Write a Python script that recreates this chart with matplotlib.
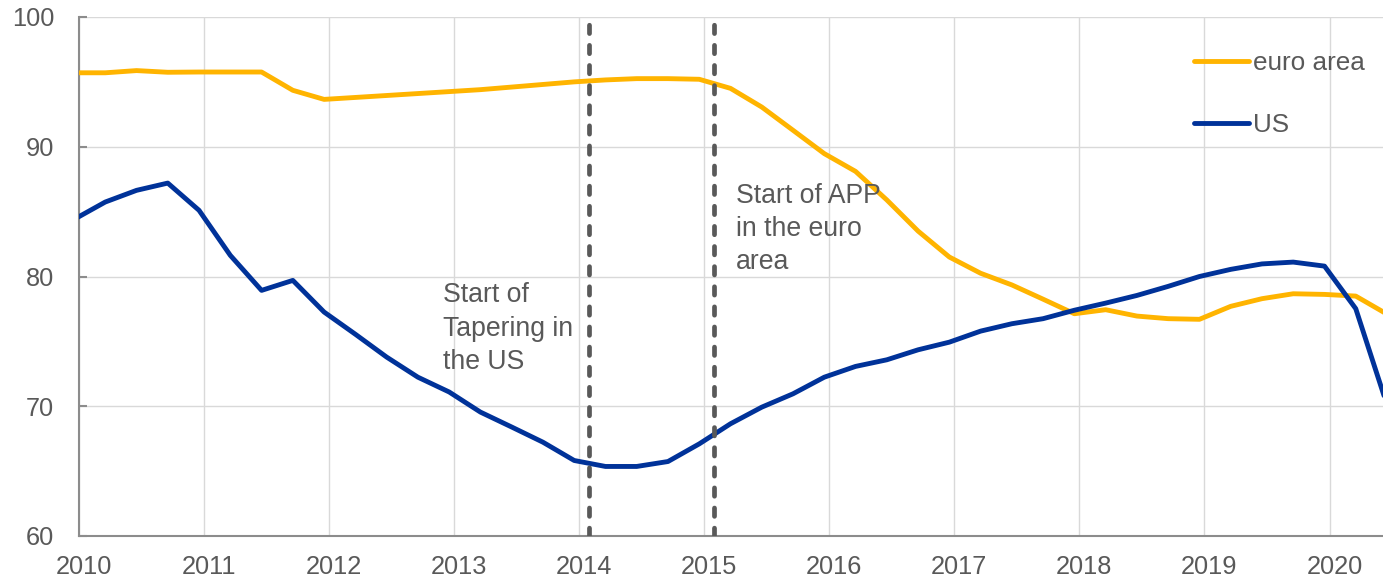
import matplotlib
matplotlib.use("Agg")
import matplotlib.pyplot as plt
from matplotlib.transforms import ScaledTranslation
import numpy as np

# Quarterly observations, 2010Q1 .. 2020Q3
start_year = 2010
quarters = list(range(43))

euro_area = [95.70, 95.70, 95.87, 95.74, 95.76, 95.76, 95.76, 94.35, 93.65,
             93.80, 93.95, 94.10, 94.25, 94.40, 94.60, 94.80, 95.00, 95.15,
             95.25, 95.25, 95.20, 94.50, 93.06, 91.27, 89.47, 88.10, 85.90,
             83.50, 81.50, 80.25, 79.35, 78.25, 77.13, 77.44, 76.95, 76.75,
             76.70, 77.70, 78.29, 78.67, 78.62, 78.49, 77.10]

us = [84.40, 85.74, 86.64, 87.20, 85.10, 81.63, 78.93, 79.70, 77.26,
      75.55, 73.79, 72.24, 71.10, 69.55, 68.40, 67.23, 65.82, 65.36,
      65.36, 65.74, 67.10, 68.65, 69.93, 70.96, 72.24, 73.07, 73.58,
      74.35, 74.94, 75.79, 76.36, 76.75, 77.40, 77.95, 78.54, 79.24,
      80.00, 80.55, 80.97, 81.11, 80.80, 77.52, 70.10]

dates = [start_year - 0.04 + 0.25 * q for q in quarters]

event_dates = [2014.08, 2015.08]
event_labels = ["Start of\nTapering in\nthe US", "Start of APP\nin the euro\narea"]
event_label_pos = [(2012.91, 79.55), (2015.254, 87.2)]

x_ticks = list(range(2010, 2021))
y_ticks = [60, 70, 80, 90, 100]

EURO_COL = "#FFB400"
US_COL = "#003299"
TEXT_COL = "#595959"
GRID_COL = "#D9D9D9"

plt.rcParams['font.family'] = ['Liberation Sans', 'DejaVu Sans']

fig = plt.figure(figsize=(13.83, 5.80), dpi=100)
ax = fig.add_axes([79 / 1383, 44 / 580, (1383 - 79) / 1383, (536 - 17) / 580])

ax.plot(dates, euro_area, color=EURO_COL, lw=3.5, label="euro area",
        solid_capstyle='round', zorder=3)
ax.plot(dates, us, color=US_COL, lw=3.5, label="US",
        solid_capstyle='round', zorder=3)

for d in event_dates:
    ax.axvline(d, color=TEXT_COL, lw=3.4, dashes=(1.77, 2.49),
               dash_capstyle='round', zorder=4)

for lab, (tx, ty) in zip(event_labels, event_label_pos):
    ax.text(tx, ty, lab, color=TEXT_COL, fontsize=19.2, ha='left', va='top',
            linespacing=1.36, zorder=5)

ax.set_xlim(2010, 2010 + (1383 - 79) / 125.05)
ax.set_ylim(60, 100)
ax.set_xticks(x_ticks)
ax.set_yticks(y_ticks)
ax.set_xticklabels([str(t) for t in x_ticks])
ax.set_yticklabels([str(t) for t in y_ticks])

ax.grid(True, color=GRID_COL, lw=1.0, zorder=0)
ax.set_axisbelow(True)

for s in ['top', 'right']:
    ax.spines[s].set_visible(False)
for s in ['left', 'bottom']:
    ax.spines[s].set_color("#8C8C8C")
    ax.spines[s].set_linewidth(1.5)

ax.tick_params(axis='y', direction='in', length=6, width=1.5, color="#8C8C8C",
               labelsize=18.3, labelcolor=TEXT_COL, pad=18)
ax.tick_params(axis='x', length=0, labelsize=18.3, labelcolor=TEXT_COL, pad=14)

offset = ScaledTranslation(5 / 100, 0, fig.dpi_scale_trans)
for lbl in ax.get_xticklabels():
    lbl.set_transform(lbl.get_transform() + offset)

leg = ax.legend(loc='upper left', bbox_to_anchor=(1194 / 1383, 1 - 51 / 580),
                bbox_transform=fig.transFigure, frameon=False, fontsize=18.8,
                handlelength=2.1, handletextpad=0.15, labelspacing=1.47,
                borderpad=0, borderaxespad=0)
for t in leg.get_texts():
    t.set_color(TEXT_COL)

fig.savefig("out.png", dpi=100)
